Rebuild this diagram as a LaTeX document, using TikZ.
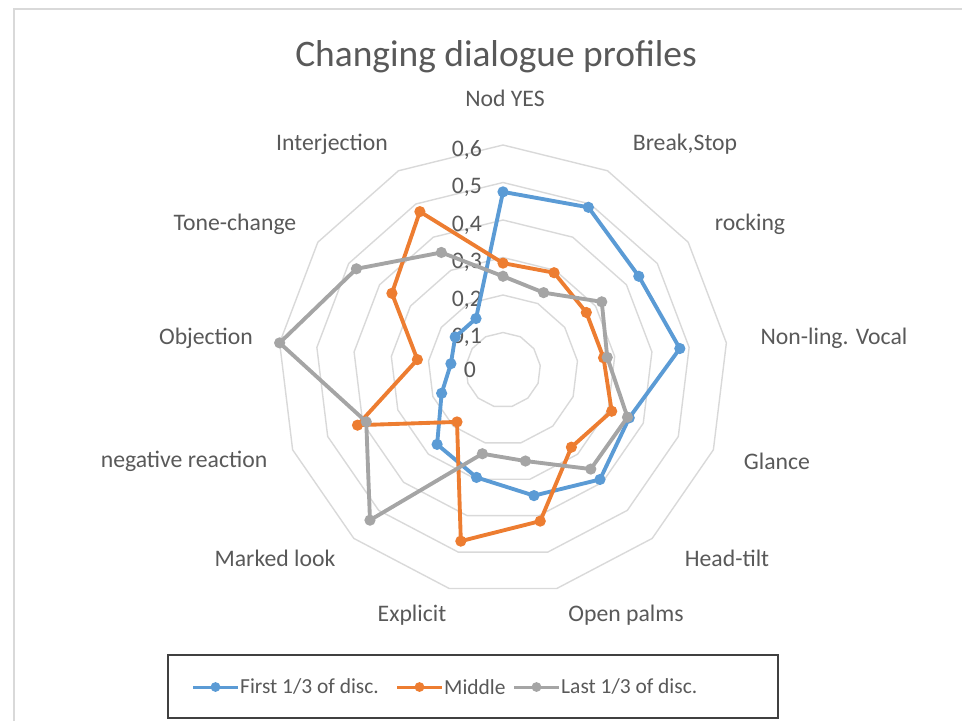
\documentclass[tikz,border=0pt]{standalone}
\usepackage{fontspec}
\setmainfont{Carlito}
\usepackage{tikz}
\definecolor{firstblue}{HTML}{5B9BD5}
\definecolor{midorange}{HTML}{ED7D31}
\definecolor{lastgray}{HTML}{A5A5A5}
\definecolor{labelgray}{HTML}{595959}
\definecolor{ringgray}{HTML}{D9D9D9}

\begin{document}
\begin{tikzpicture}[x=0.02cm, y=0.02cm,
  axislabel/.style={font=\fontsize{13.5}{16}\selectfont, text=labelgray},
  series/.style={line width=2.2pt, line join=round},
  legendline/.style={line width=1.7pt}]

\useasboundingbox (0,0) rectangle (962,721);
% chart frame
\draw[ringgray, line width=0.8pt] (14,0) -- (14,712) -- (962,712);

%% === Title ===
\node[font=\fontsize{21.3}{25}\selectfont, text=labelgray] (title) at (496,664)
  {Changing dialogue profiles};

%% === Radar: rings, scale, series ===
\begin{scope}[shift={(503,351)}]
  % rings 0.1 ... 0.6
  \foreach \r in {1,...,6} {
    \draw[ringgray, line width=0.8pt] (90:{\r*37.5})
      \foreach \k in {1,...,12} { -- ({90-\k*360/13}:{\r*37.5}) } -- cycle;
  }
  % scale labels
  \node[axislabel, anchor=east] (tick0) at (-21,0) {0};
  \foreach \v in {1,...,6} {
    \node[axislabel, anchor=east] (tick\v) at (-15,{\v*37.5-5}) {0,\v};
  }
  % first 1/3 of discussion
  \foreach \v [count=\i from 0] in {0.475,0.49,0.44,0.475,0.36,0.39,0.345,
                                    0.295,0.265,0.175,0.14,0.155,0.155} {
    \coordinate (f\i) at ({90-\i*360/13}:{\v*375});
  }
  \draw[series, firstblue] (f0) \foreach \i in {1,...,12} { -- (f\i) } -- cycle;
  \foreach \i in {0,...,12} { \fill[firstblue] (f\i) circle (3.2pt); }
  % middle
  \foreach \v [count=\i from 0] in {0.285,0.293,0.27,0.27,0.31,0.275,0.415,
                                    0.47,0.185,0.415,0.23,0.36,0.477} {
    \coordinate (m\i) at ({90-\i*360/13}:{\v*375});
  }
  \draw[series, midorange] (m0) \foreach \i in {1,...,12} { -- (m\i) } -- cycle;
  \foreach \i in {0,...,12} { \fill[midorange] (m\i) circle (3.2pt); }
  % last 1/3 of discussion
  \foreach \v [count=\i from 0] in {0.25,0.233,0.32,0.28,0.355,0.353,0.25,
                                    0.23,0.535,0.39,0.6,0.475,0.354} {
    \coordinate (l\i) at ({90-\i*360/13}:{\v*375});
  }
  \draw[series, lastgray] (l0) \foreach \i in {1,...,12} { -- (l\i) } -- cycle;
  \foreach \i in {0,...,12} { \fill[lastgray] (l\i) circle (3.2pt); }
\end{scope}

%% === Axis labels ===
\foreach \x/\y/\n/\t in {505/623/nod/{Nod YES}, 685/577/brk/{Break,Stop},
    750/497/rock/{rocking}, 834/383/vocal/{Non-ling. Vocal},
    777/260/glance/{Glance}, 727/163/tilt/{Head-tilt},
    626/106/palms/{Open palms}, 412/106/expl/{Explicit},
    275/163/marked/{Marked look}, 184/260/neg/{negative reaction},
    206/383/obj/{Objection}, 235/497/tone/{Tone-change},
    332/577/interj/{Interjection}} {
  \node[axislabel] (\n) at (\x,\y) {\t};
}

%% === Legend ===
\draw[black!75, line width=1.1pt] (168,3) rectangle (778,66);
\foreach \x/\c/\n/\t in {193/firstblue/first/{First 1/3 of disc.},
    397/midorange/middle/{Middle}, 514/lastgray/last/{Last 1/3 of disc.}} {
  \draw[legendline, \c] (\x,34) -- ++(45,0);
  \fill[\c] (\x+22.5,34) circle (2.8pt);
  \node[axislabel, font=\fontsize{12.2}{15}\selectfont, anchor=west, inner sep=0.5pt]
    (leg\n) at (\x+46,34) {\t};
}

\end{tikzpicture}
\end{document}
